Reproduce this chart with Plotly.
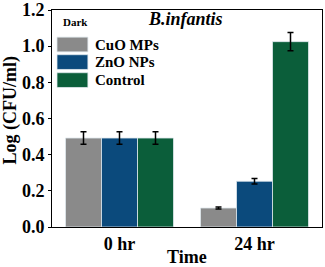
import plotly.graph_objects as go

categories = ["0 hr", "24 hr"]
series_names = ["CuO MPs", "ZnO NPs", "Control"]
series_colors = ["#8a8a8a", "#0b4a7c", "#0b5e3a"]
cuo_values = [0.492, 0.105]
cuo_errors = [0.035, 0.006]
zno_values = [0.492, 0.253]
zno_errors = [0.035, 0.015]
control_values = [0.492, 1.025]
control_errors = [0.035, 0.05]
y_ticks = [0.0, 0.2, 0.4, 0.6, 0.8, 1.0, 1.2]

values = [cuo_values, zno_values, control_values]
errors = [cuo_errors, zno_errors, control_errors]

FONT = "Liberation Serif"
fig = go.Figure()
for name, vals, errs, col in zip(series_names, values, errors, series_colors):
    fig.add_trace(go.Bar(
        x=categories, y=vals, name=name,
        marker=dict(color=col, line=dict(color="#dfe8ee", width=0.8)),
        error_y=dict(type="data", array=errs, color="black", thickness=1.5, width=3),
        showlegend=False,
    ))

# custom legend with large swatches
legend_y = [0.841, 0.760, 0.677]
for name, col, yy in zip(series_names, series_colors, legend_y):
    fig.add_shape(type="rect", xref="paper", yref="paper",
                  x0=0.0185, x1=0.133, y0=yy - 0.034, y1=yy + 0.034,
                  fillcolor=col, line=dict(color="#dfe8ee", width=0.8))
    fig.add_annotation(xref="paper", yref="paper", x=0.150, y=yy, text="<b>%s</b>" % name,
                       showarrow=False, xanchor="left", yanchor="middle",
                       font=dict(family=FONT, size=15, color="black"))

fig.add_annotation(xref="paper", yref="paper", x=0.034, y=0.945, text="<b>Dark</b>",
                   showarrow=False, xanchor="left", yanchor="middle",
                   font=dict(family=FONT, size=11, color="black"))
fig.add_annotation(xref="paper", yref="paper", x=0.493, y=0.958, text="<b><i>B.infantis</i></b>",
                   showarrow=False, xanchor="center", yanchor="middle",
                   font=dict(family=FONT, size=18, color="black"))
# axis titles
fig.add_annotation(xref="paper", yref="paper", x=0.5, y=-0.136, text="<b>Time</b>",
                   showarrow=False, xanchor="center", yanchor="middle",
                   font=dict(family=FONT, size=18, color="black"))
fig.add_annotation(xref="paper", yref="paper", x=-0.152, y=0.537, text="<b>Log (CFU/ml)</b>",
                   showarrow=False, xanchor="center", yanchor="middle", textangle=-90,
                   font=dict(family=FONT, size=18, color="black"))

fig.update_layout(
    width=325, height=267,
    margin=dict(l=52, r=3, t=10, b=40, autoexpand=False),
    paper_bgcolor="white", plot_bgcolor="white",
    barmode="group", bargap=0.2, bargroupgap=0,
    font=dict(family=FONT, color="black"),
)
fig.update_xaxes(
    showline=True, linecolor="black", linewidth=1, mirror=True, automargin=False,
    ticks="", tickfont=dict(family=FONT, size=18, color="black", weight="bold"),
)
fig.update_yaxes(
    range=[0, 1.2], tickvals=y_ticks, ticktext=["<b>%.1f</b>" % v for v in y_ticks],
    showline=True, linecolor="black", linewidth=1, mirror=True, automargin=False,
    ticks="outside", ticklen=3, tickcolor="black", showgrid=False, zeroline=False,
    tickfont=dict(family=FONT, size=18, color="black", weight="bold"),
)

fig.write_html("out.html", config={"displayModeBar": False})
with open("out.html", "r", encoding="utf-8") as f:
    html = f.read()
html = html.replace("<head>", "<head><style>html,body{margin:0;padding:0;overflow:hidden;}</style>", 1)
with open("out.html", "w", encoding="utf-8") as f:
    f.write(html)
